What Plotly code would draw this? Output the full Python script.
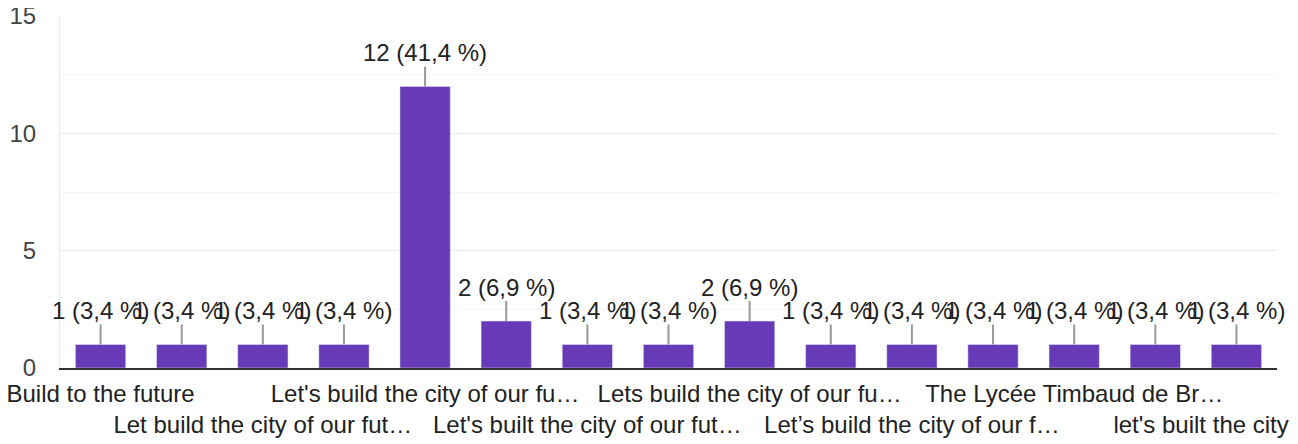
import plotly.graph_objects as go

# Data
labels = [
    "Build to the future", "",
    "Let build the city of our fut…", "",
    "Let's build the city of our fu…", "",
    "Let's built the city of our fut…", "",
    "Lets build the city of our fu…", "",
    "Let’s build the city of our f…", "",
    "The Lycée Timbaud de Br…", "",
    "let's built the city of o…",
]
counts = [1, 1, 1, 1, 12, 2, 1, 1, 2, 1, 1, 1, 1, 1, 1]
percents = ["3,4", "3,4", "3,4", "3,4", "41,4", "6,9", "3,4", "3,4", "6,9",
            "3,4", "3,4", "3,4", "3,4", "3,4", "3,4"]
y_ticks = [0, 5, 10, 15]

positions = list(range(len(counts)))
# alternate tick label rows
ticktext = []
for i, lab in enumerate(labels):
    if lab and (i // 2) % 2 == 1:
        ticktext.append("<br>" + lab)
    else:
        ticktext.append(lab)

FONT = "Liberation Sans, Arial, sans-serif"
FS = 24

fig = go.Figure()
fig.add_trace(go.Bar(
    x=positions, y=counts, marker_color="#673ab7", width=0.62,
    hoverinfo="skip",
))

for x, c, p in zip(positions, counts, percents):
    fig.add_annotation(
        x=x, y=c, xref="x", yref="y",
        text=f"{c} ({p} %)", showarrow=True, arrowhead=0,
        arrowwidth=2, arrowcolor="#999999", ax=0, ay=-34,
        standoff=0, borderpad=0,
        font=dict(family=FONT, size=FS, color="#222222"),
    )

# page body has an 8px margin, so the figure is sized to compensate
fig.update_layout(
    width=1290, height=436,
    margin=dict(l=52, r=21, t=8, b=76),
    plot_bgcolor="white", paper_bgcolor="white",
    showlegend=False, bargap=0.38,
    font=dict(family=FONT, size=FS, color="#222222"),
)
fig.update_xaxes(
    range=[-0.5, len(counts) - 0.5], automargin=False,
    tickmode="array", tickvals=positions, ticktext=ticktext,
    showline=True, linecolor="#333333", linewidth=2,
    showgrid=False, ticks="", tickangle=0,
    ticklabeloverflow="allow", ticklabelstandoff=3,
    tickfont=dict(family=FONT, size=FS, color="#222222"),
)
fig.update_yaxes(
    range=[0, 15], tickvals=y_ticks, automargin=False,
    showgrid=True, gridcolor="#ebebeb", gridwidth=1,
    minor=dict(dtick=2.5, showgrid=True, gridcolor="#f5f5f5"),
    zeroline=False, showline=True, linecolor="#ebebeb",
    ticks="", ticklabelstandoff=18, ticklabeloverflow="allow",
    tickfont=dict(family=FONT, size=FS, color="#444444"),
)

fig.write_html("out.html")
